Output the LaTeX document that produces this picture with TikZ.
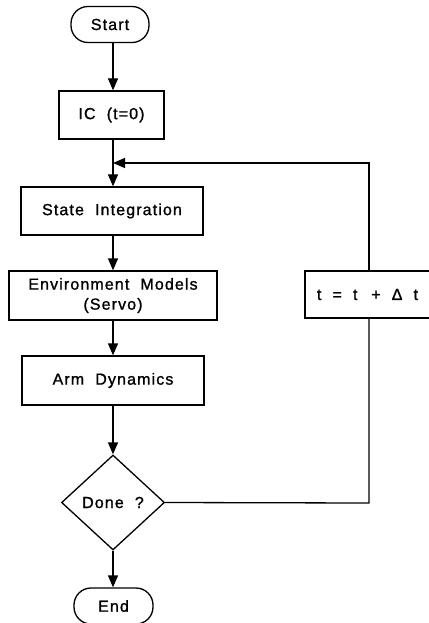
\documentclass[tikz,border=0pt]{standalone}
\usepackage{fontspec}
\setmainfont{Liberation Sans}[LetterSpace=7,WordSpace=2,FakeBold=1.2]
\usetikzlibrary{arrows.meta,shapes.geometric}
\begin{document}
\begin{tikzpicture}[x=1pt,y=1pt,
  every node/.style={font=\fontsize{16}{20}\selectfont, inner sep=0pt, line width=1.3pt},
  box/.style={draw, rectangle, minimum height=48pt},
  term/.style={draw, rectangle, rounded corners=17pt, minimum height=36pt},
  decide/.style={draw, diamond, minimum width=103pt, minimum height=95pt},
  flow/.style={line width=1.3pt, -{Triangle[width=10pt,length=12pt]}},
  plain/.style={line width=1.3pt}]
\useasboundingbox (0,0) rectangle (428,-623);
\node[term, minimum width=78pt] (start) at (110,-24.5) {Start};
\node[box, minimum width=105pt] (ic) at (111.5,-115) {IC (t=0)};
\node[box, minimum width=182pt] (si) at (112,-211) {State Integration};
\node[box, minimum width=208pt, minimum height=49pt, align=center] (env) at (113,-295.5) {Environment Models\\(Servo)};
\node[box, minimum width=182pt, minimum height=49pt] (arm) at (113,-380.5) {Arm Dynamics};
\node[decide] (done) at (113,-502.5) {Done ?};
\node[term, minimum width=79pt] (end) at (113.5,-606) {End};
\node[box, minimum width=128pt, minimum height=47pt] (tbox) at (369,-294.5) {\hspace*{-3pt}t = t \,+ Δ t};
\coordinate (join) at (113,-163);
\coordinate (corner) at (369,-163);
\coordinate (low) at (369,-503);
\draw[flow] (start.south -| join) -- (ic.north -| join);
\draw[plain] (ic.south -| join) -- (join);
\draw[flow] (join) -- (si.north -| join);
\draw[flow] (si.south -| join) -- (env.north -| join);
\draw[flow] (env.south -| join) -- (arm.north -| join);
\draw[flow] (arm.south -| join) -- (done.north);
\draw[flow] (done.south) -- (end.north -| done.south);
\draw[plain] (done.east) -- (low) -- (tbox.south);
\draw[flow] (tbox.north) -- (corner) -- (join);
\end{tikzpicture}
\end{document}
